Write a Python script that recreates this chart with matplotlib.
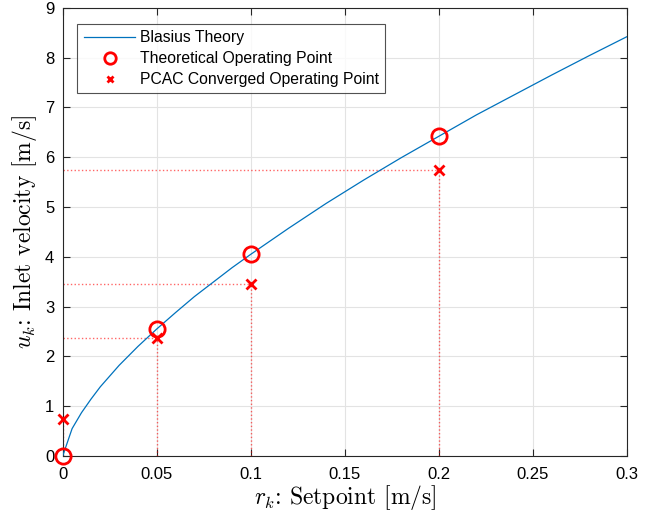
import matplotlib
matplotlib.use("Agg")
import matplotlib.pyplot as plt

plt.rcParams['font.family'] = ['Liberation Sans', 'DejaVu Sans']
plt.rcParams['mathtext.fontset'] = 'cm'

# Blasius theory curve (setpoint vs inlet velocity)
r_theory = [0.0, 0.005, 0.01, 0.015, 0.02, 0.03, 0.04, 0.05, 0.06, 0.07, 0.08, 0.09,
            0.10, 0.12, 0.14, 0.16, 0.18, 0.20, 0.22, 0.24, 0.26, 0.28, 0.30]
u_theory = [0.0, 0.55, 0.87, 1.14, 1.39, 1.82, 2.20, 2.55, 2.88, 3.20, 3.49, 3.78,
            4.05, 4.57, 5.07, 5.54, 5.99, 6.42, 6.85, 7.25, 7.65, 8.04, 8.42]

# Operating points
r_points = [0.0, 0.05, 0.10, 0.20]
u_theoretical = [0.0, 2.55, 4.05, 6.42]
u_converged = [0.75, 2.37, 3.46, 5.75]

x_ticks = [0, 0.05, 0.1, 0.15, 0.2, 0.25, 0.3]
x_ticklabels = ['0', '0.05', '0.1', '0.15', '0.2', '0.25', '0.3']
y_ticks = list(range(0, 10))

fig = plt.figure(figsize=(6.6, 5.17), dpi=100)
ax = fig.add_axes([0.095, 0.118, 0.855, 0.867])

blue = (0.0, 0.447, 0.741)

# dotted guide lines to the converged points
for r, u in zip(r_points, u_converged):
    ax.plot([0, r], [u, u], linestyle=':', color='red', alpha=0.6, linewidth=1.0, zorder=2)
    ax.plot([r, r], [0, u], linestyle=':', color='red', alpha=0.6, linewidth=1.0, zorder=2)

ax.plot(r_theory, u_theory, color=blue, linewidth=0.9, label='Blasius Theory', zorder=3)
ax.plot(r_points, u_theoretical, linestyle='none', marker='o', markersize=11,
        markerfacecolor='none', markeredgecolor='red', markeredgewidth=2.0,
        label='Theoretical Operating Point', zorder=4, clip_on=False)
ax.plot(r_points, u_converged, linestyle='none', marker='x', markersize=6.5,
        color='red', markeredgewidth=2.0,
        label='PCAC Converged Operating Point', zorder=4, clip_on=False)

ax.set_xlim(0, 0.3)
ax.set_ylim(0, 9)
ax.set_xticks(x_ticks)
ax.set_xticklabels(x_ticklabels)
ax.set_yticks(y_ticks)

ax.grid(True, color='#e3e3e3', linewidth=0.8)
ax.set_axisbelow(True)
for s in ax.spines.values():
    s.set_color('#262626')
    s.set_linewidth(0.8)
ax.tick_params(direction='in', length=5, width=0.8, color='#262626',
               labelsize=12, top=True, right=True)
ax.tick_params(axis='x', pad=8)
ax.tick_params(axis='y', pad=6)

label_font = ['cmr10', 'DejaVu Serif']
ax.set_xlabel(r'$r_k$: Setpoint [m/s]', fontsize=17, labelpad=1, family=label_font)
ax.set_ylabel(r'$u_k$: Inlet velocity [m/s]', fontsize=17, labelpad=4, family=label_font)

leg = ax.legend(loc='upper left', bbox_to_anchor=(0.026, 0.964), fontsize=11.3,
                frameon=True, fancybox=False, edgecolor='#262626',
                borderpad=0.4, labelspacing=0.38, handlelength=3.3,
                handletextpad=0.3, borderaxespad=0.0, markerscale=0.75)
leg.get_frame().set_linewidth(0.8)

fig.savefig('out.png', dpi=100)
